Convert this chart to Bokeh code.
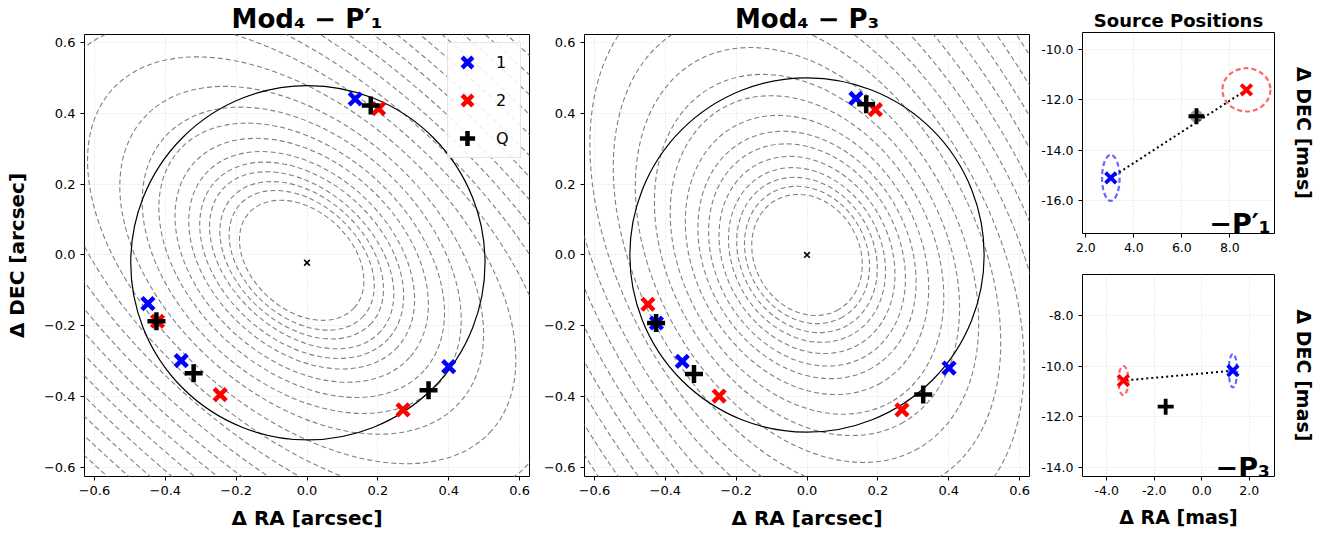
from bokeh.plotting import figure
from bokeh.layouts import row, column
from bokeh.models import (Range1d, FixedTicker, CustomJSTickFormatter, LinearAxis,
                          Label, ColumnDataSource)
from bokeh.embed import file_html
from bokeh.resources import INLINE

FONT = "DejaVu Sans"

# ---------------- data: panel "Mod4 - P1'" ----------------
p1_img1_x = [0.136, -0.449, -0.355, 0.400]
p1_img1_y = [0.440, -0.137, -0.298, -0.315]
p1_img2_x = [0.202, -0.422, -0.245, 0.271]
p1_img2_y = [0.413, -0.187, -0.394, -0.437]
p1_q_x = [0.180, -0.425, -0.320, 0.343]
p1_q_y = [0.422, -0.187, -0.334, -0.382]
p1_lens_x = [0.0]
p1_lens_y = [-0.022]
p1_crit_x = [0.0025]
p1_crit_y = [-0.022]
p1_crit_r = [0.50]
p1_cont_cx = -0.015
p1_cont_cy = -0.015
p1_cont_angle = -42.0
p1_cont_major = [0.20, 0.235, 0.265, 0.30, 0.33, 0.365, 0.41, 0.465, 0.52, 0.60, 0.72,
                 0.86, 1.00, 1.15, 1.30, 1.45, 1.60, 1.75, 1.90, 2.05, 2.20, 2.35]
p1_cont_minor = [0.14, 0.16, 0.18, 0.20, 0.225, 0.25, 0.28, 0.31, 0.345, 0.38, 0.42,
                 0.46, 0.50, 0.54, 0.58, 0.62, 0.66, 0.70, 0.74, 0.78, 0.82, 0.86]

# ---------------- data: panel "Mod4 - P3" ----------------
p3_img1_x = [0.138, -0.425, -0.352, 0.401]
p3_img1_y = [0.442, -0.192, -0.300, -0.319]
p3_img2_x = [0.193, -0.449, -0.248, 0.268]
p3_img2_y = [0.410, -0.139, -0.398, -0.437]
p3_q_x = [0.167, -0.426, -0.319, 0.328]
p3_q_y = [0.425, -0.192, -0.336, -0.394]
p3_lens_x = [0.0]
p3_lens_y = [0.0]
p3_crit_x = [0.0]
p3_crit_y = [0.0]
p3_crit_r = [0.50]
p3_cont_cx = 0.0
p3_cont_cy = 0.0
p3_cont_angle = -60.0
p3_cont_major = [0.178, 0.202, 0.229, 0.258, 0.292, 0.33, 0.368, 0.417, 0.478, 0.545, 0.63,
                 0.73, 0.84, 0.95, 1.07, 1.20, 1.34, 1.48, 1.63, 1.79, 1.96]
p3_cont_minor = [0.148, 0.167, 0.187, 0.208, 0.232, 0.258, 0.285, 0.315, 0.35, 0.385, 0.425,
                 0.47, 0.515, 0.56, 0.605, 0.65, 0.695, 0.74, 0.785, 0.83, 0.875]

# ---------------- data: source positions (mas) ----------------
s1_src1 = (3.04, -15.10)
s1_src2 = (8.69, -11.60)
s1_q = (6.61, -12.65)
s1_err1 = (0.73, 1.83)
s1_err2 = (2.00, 1.72)
s1_errq = (0.55, 0.50)

s3_src1 = (1.31, -10.18)
s3_src2 = (-3.30, -10.57)
s3_q = (-1.52, -11.60)
s3_err1 = (0.35, 1.32)
s3_err2 = (0.42, 1.15)

big_ticks = [-0.6, -0.4, -0.2, 0.0, 0.2, 0.4, 0.6]
s1_xticks = [2.0, 4.0, 6.0, 8.0]
s1_yticks = [-10.0, -12.0, -14.0, -16.0]
s3_xticks = [-4.0, -2.0, 0.0, 2.0]
s3_yticks = [-8.0, -10.0, -12.0, -14.0]

minus_fmt = CustomJSTickFormatter(code="var s = Math.abs(tick).toFixed(1); return (tick < -1e-9 ? '\u2212' : '') + s;")
plain_fmt = CustomJSTickFormatter(code="return tick.toFixed(1);")


def style_axes(p, xticks, yticks, fmt, fsize):
    for ax in (p.xaxis[0], p.yaxis[0]):
        ax.formatter = fmt
        ax.major_label_text_font = FONT
        ax.major_label_text_font_size = fsize
        ax.major_label_text_color = "black"
        ax.major_tick_out = 4
        ax.major_tick_in = 0
        ax.minor_tick_line_color = None
        ax.axis_line_color = None
        ax.major_tick_line_color = "black"
        ax.axis_label_text_font = FONT
        ax.axis_label_text_font_style = "bold"
        ax.axis_label_text_color = "black"
    p.xaxis[0].ticker = FixedTicker(ticks=xticks)
    p.yaxis[0].ticker = FixedTicker(ticks=yticks)
    p.grid.grid_line_color = "#d4d4d4"
    p.grid.grid_line_dash = "1 2"
    p.grid.grid_line_width = 0.8
    p.outline_line_color = "black"
    p.outline_line_width = 1
    p.outline_line_alpha = 1
    p.background_fill_color = "white"
    p.border_fill_color = "white"


def big_panel(title, img1x, img1y, img2x, img2y, qx, qy, lx, ly, cx, cy, cr,
              ccx, ccy, cang, cmaj, cmin, left_border, ylabel, legend):
    p = figure(frame_width=445, frame_height=442,
               x_range=Range1d(-0.628, 0.628), y_range=Range1d(-0.625, 0.622),
               output_backend="svg", toolbar_location=None,
               min_border_left=left_border, min_border_right=5,
               min_border_top=33, min_border_bottom=59, title=title)
    p.title.text_font = FONT
    p.title.text_font_size = "26px"
    p.title.text_font_style = "bold"
    p.title.text_color = "black"
    p.title.align = "center"
    p.title.standoff = 2
    style_axes(p, big_ticks, big_ticks, minus_fmt, "13px")
    p.xaxis.axis_label = "\u0394 RA [arcsec]"
    p.xaxis.axis_label_text_font_size = "20px"
    p.xaxis.axis_label_standoff = 8
    if ylabel:
        p.yaxis.axis_label = ylabel
        p.yaxis.axis_label_text_font_size = "20px"
        p.yaxis.axis_label_standoff = 12

    cont = ColumnDataSource(dict(
        x=[ccx] * len(cmaj), y=[ccy] * len(cmaj),
        w=[2 * a for a in cmaj], h=[2 * b for b in cmin]))
    p.ellipse("x", "y", width="w", height="h", angle=cang, angle_units="deg",
              source=cont, fill_color=None, line_color="#808080",
              line_dash="5 3", line_width=1.1)
    p.ellipse(cx, cy, width=[2 * r for r in cr], height=[2 * r for r in cr],
              fill_color=None, line_color="black", line_width=1.2)
    p.scatter(lx, ly, marker="x", size=8, line_width=1.6, color="black")
    kw1 = dict(legend_label="1") if legend else {}
    kw2 = dict(legend_label="2") if legend else {}
    kwq = dict(legend_label="Q") if legend else {}
    p.scatter(img1x, img1y, marker="x", size=17, line_width=4.5, color="#0000ff", **kw1)
    p.scatter(img2x, img2y, marker="x", size=17, line_width=4.5, color="#ff0000", **kw2)
    p.scatter(qx, qy, marker="cross", size=18, line_width=4.5, color="black", **kwq)
    if legend:
        lg = p.legend[0]
        lg.location = "top_right"
        lg.border_line_color = "#cccccc"
        lg.border_line_width = 1
        lg.background_fill_alpha = 0.85
        lg.label_text_font = FONT
        lg.label_text_font_size = "16px"
        lg.label_text_color = "black"
        lg.glyph_width = 38
        lg.glyph_height = 38
        lg.spacing = -14
        lg.padding = 0
        lg.margin = 8
        lg.label_standoff = 10
        lg.label_width = 24
    return p


def small_panel(xr, yr, xt, yt, src1, src2, q, e1, e2, eq, tag, tag_xy, title,
                top, bottom, xlabel):
    kw = dict(title=title) if title else {}
    p = figure(frame_width=192, frame_height=(201 if title else 202),
               x_range=Range1d(*xr), y_range=Range1d(*yr),
               output_backend="svg", toolbar_location=None,
               min_border_left=48, min_border_right=67,
               min_border_top=top, min_border_bottom=bottom, **kw)
    if title:
        p.title.text_font = FONT
        p.title.text_font_size = "18px"
        p.title.text_font_style = "bold"
        p.title.text_color = "black"
        p.title.align = "center"
        p.title.standoff = 4
    style_axes(p, xt, yt, plain_fmt, "12.5px")
    if xlabel:
        p.xaxis.axis_label = xlabel
        p.xaxis.axis_label_text_font_size = "19px"
        p.xaxis.axis_label_standoff = 8
    rax = LinearAxis(axis_label="\u0394 DEC [mas]", ticker=FixedTicker(ticks=[]),
                     axis_line_color=None, major_tick_line_color=None,
                     minor_tick_line_color=None,
                     axis_label_text_font=FONT, axis_label_text_font_style="bold",
                     axis_label_text_font_size="19px", axis_label_standoff=18,
                     axis_label_text_color="black")
    p.add_layout(rax, "right")

    p.line([src1[0], src2[0]], [src1[1], src2[1]], line_color="black",
           line_dash="2 3", line_width=2)
    if eq is not None:
        p.ellipse([q[0]], [q[1]], width=[eq[0]], height=[eq[1]],
                  fill_color="#555555", fill_alpha=0.6, line_color=None)
    p.ellipse([src1[0]], [src1[1]], width=[e1[0]], height=[e1[1]], fill_color=None,
              line_color="#0000ff", line_alpha=0.6, line_dash="5 3", line_width=2.2)
    p.ellipse([src2[0]], [src2[1]], width=[e2[0]], height=[e2[1]], fill_color=None,
              line_color="#ff0000", line_alpha=0.6, line_dash="5 3", line_width=2.2)
    p.scatter([src1[0]], [src1[1]], marker="x", size=15, line_width=3.8, color="#0000ff")
    p.scatter([src2[0]], [src2[1]], marker="x", size=15, line_width=3.8, color="#ff0000")
    p.scatter([q[0]], [q[1]], marker="cross", size=16, line_width=3.8, color="black")
    p.add_layout(Label(x=tag_xy[0], y=tag_xy[1], text=tag, text_align="right",
                       text_baseline="alphabetic", text_font=FONT,
                       text_font_style="bold", text_font_size="27px",
                       text_color="black"))
    return p


pa = big_panel("Mod\u2084 \u2212 P\u2032\u2081", p1_img1_x, p1_img1_y, p1_img2_x, p1_img2_y,
               p1_q_x, p1_q_y, p1_lens_x, p1_lens_y, p1_crit_x, p1_crit_y, p1_crit_r,
               p1_cont_cx, p1_cont_cy, p1_cont_angle, p1_cont_major, p1_cont_minor,
               84, "\u0394 DEC [arcsec]", True)
pb = big_panel("Mod\u2084 \u2212 P\u2083", p3_img1_x, p3_img1_y, p3_img2_x, p3_img2_y,
               p3_q_x, p3_q_y, p3_lens_x, p3_lens_y, p3_crit_x, p3_crit_y, p3_crit_r,
               p3_cont_cx, p3_cont_cy, p3_cont_angle, p3_cont_major, p3_cont_minor,
               50, None, False)

pc = small_panel((1.86, 9.86), (-17.31, -9.32), s1_xticks, s1_yticks,
                 s1_src1, s1_src2, s1_q, s1_err1, s1_err2, s1_errq,
                 "\u2212P\u2032\u2081", (9.7, -16.9), "Source Positions", 32, 23, None)
pd_ = small_panel((-5.02, 3.06), (-14.36, -6.38), s3_xticks, s3_yticks,
                  s3_src1, s3_src2, s3_q, s3_err1, s3_err2, None,
                  "\u2212P\u2083", (2.86, -14.02), None, 18, 58, "\u0394 RA [mas]")

layout = row(pa, pb, column(pc, pd_, spacing=0), spacing=0)

with open("out.html", "w") as f:
    f.write(file_html(layout, INLINE))
